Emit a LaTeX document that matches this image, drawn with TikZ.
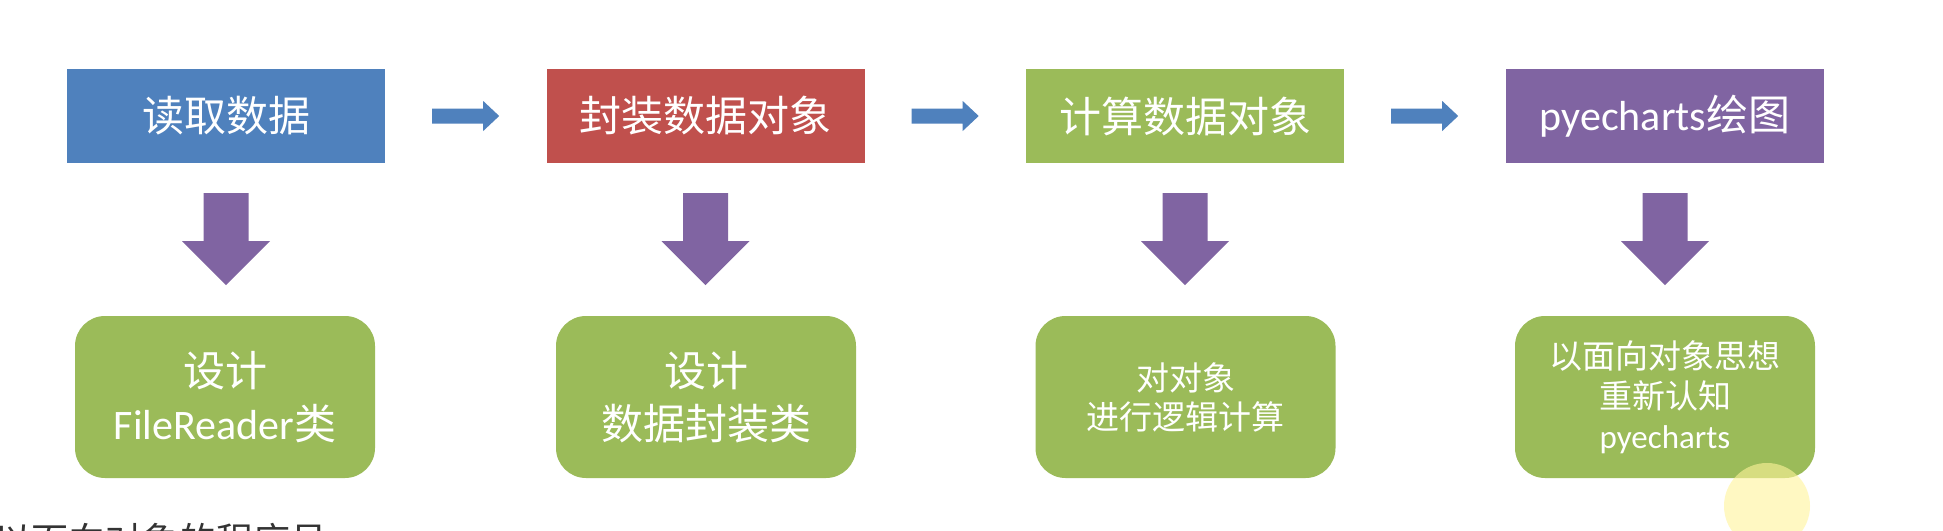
\documentclass[tikz,border=0pt]{standalone}
\usepackage{fontspec}
\setmainfont{Noto Sans CJK SC}
\newfontfamily\latn{Carlito}
\definecolor{cblue}{HTML}{4F81BD}
\definecolor{cred}{HTML}{C0504D}
\definecolor{cgreen}{HTML}{9BBB59}
\definecolor{cpurple}{HTML}{8064A2}
\definecolor{cyellow}{HTML}{FFF49A}
\begin{document}
\begin{tikzpicture}[x=1pt,y=-1pt,
  topbox/.style={rectangle, minimum width=318pt, minimum height=94pt, inner sep=0pt,
    text=white, font=\fontsize{42pt}{50pt}\selectfont},
  botbox/.style={rectangle, rounded corners=30pt, fill=cgreen, minimum width=300pt,
    minimum height=162pt, inner sep=0pt, text=white, align=center},
  bigtxt/.style={font=\fontsize{42pt}{53pt}\selectfont},
  smalltxt/.style={font=\fontsize{33pt}{39pt}\selectfont},
  pics/rightarr/.style={code={\fill[cblue] (0,-7.5) -- (51,-7.5) -- (51,-15) -- (67,0)
    -- (51,15) -- (51,7.5) -- (0,7.5) -- cycle;}},
  pics/downarr/.style={code={\fill[cpurple] (-22.5,0) -- (22.5,0) -- (22.5,48) -- (44,48)
    -- (0,92) -- (-44,48) -- (-22.5,48) -- cycle;}}
]
\useasboundingbox (0,0) rectangle (1943,530);
\fill[white] (0,0) rectangle (1943,530);

\node[topbox, fill=cblue] (t1) at (226,116) {读取数据};
\node[topbox, fill=cred] (t2) at (705.5,116) {封装数据对象};
\node[topbox, fill=cgreen] (t3) at (1185,116) {计算数据对象};
\node[topbox, fill=cpurple] (t4) at (1665,116) {{\latn pyecharts}绘图};

\node[botbox, bigtxt] (b1) at (225,397) {设计\\{\latn FileReader}类};
\node[botbox, bigtxt] (b2) at (706,397) {设计\\数据封装类};
\node[botbox, smalltxt] (b3) at (1185.5,397) {对对象\\进行逻辑计算};
\node[botbox, smalltxt, font=\fontsize{33pt}{40pt}\selectfont] (b4) at (1665,397) {以面向对象思想\\重新认知\\{\latn pyecharts}};

\pic at ([xshift=47pt]t1.east) {rightarr};
\pic at ([xshift=47pt]t2.east) {rightarr};
\pic at ([xshift=47pt]t3.east) {rightarr};

\pic at ([yshift=-30pt]t1.south) {downarr};
\pic at ([yshift=-30pt]t2.south) {downarr};
\pic at ([yshift=-30pt]t3.south) {downarr};
\pic at ([yshift=-30pt]t4.south) {downarr};

\node[anchor=base west, inner sep=0pt, text=black!80, font=\fontsize{37pt}{40pt}\selectfont] (cut) at (-6,554) {以面向对象的程序员};

\fill[cyellow, opacity=0.6] (1767,506) circle[radius=43pt];
\end{tikzpicture}
\end{document}
